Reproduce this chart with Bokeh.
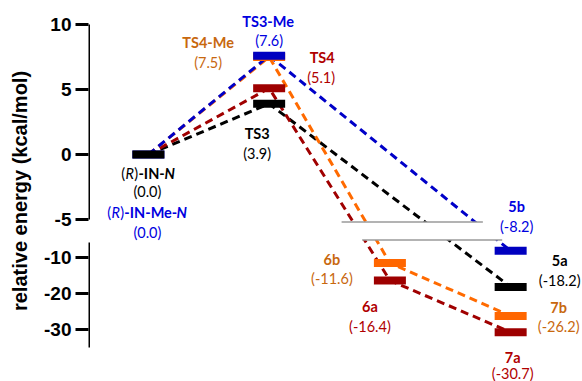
from bokeh.plotting import figure
from bokeh.models import LinearAxis, FixedTicker, ColumnDataSource
from bokeh.core.properties import value
from bokeh.embed import file_html
from bokeh.resources import INLINE

# ---------------- data ----------------
state_names = ["(R)-IN-N", "(R)-IN-Me-N", "TS3", "TS3-Me", "TS4", "TS4-Me",
               "6a", "6b", "5a", "5b", "7a", "7b"]
state_stage = [1, 1, 2, 2, 2, 2, 3, 3, 4, 4, 4, 4]
state_energy = [0.0, 0.0, 3.9, 7.6, 5.1, 7.5, -16.4, -11.6, -18.2, -8.2, -30.7, -26.2]
state_series = ["black", "blue", "black", "blue", "red", "orange",
                "red", "orange", "black", "blue", "red", "orange"]

path_black = ["(R)-IN-N", "TS3", "5a"]
path_blue = ["(R)-IN-Me-N", "TS3-Me", "5b"]
path_red = ["(R)-IN-N", "TS4", "6a", "7a"]
path_orange = ["(R)-IN-Me-N", "TS4-Me", "6b", "7b"]

upper_ticks = [10, 5, 0, -5]
lower_ticks = [-10, -20, -30]
y_label = "relative energy (kcal/mol)"

# ---------------- broken axis geometry ----------------
UPPER = (-5, 10)
LOWER = (-35, -6)
LOWER_RATIO = 0.2785   # length of one lower unit in upper units
GAP = 1.79             # gap between upper -5 and lower -6 (upper units)
BREAK_AT = -5.2        # panel edge value (in each panel's own scale)


def up(v):
    return v


def lo(v):
    return UPPER[0] - GAP - (LOWER[1] - v) * LOWER_RATIO


def disp(v):
    return up(v) if v >= UPPER[0] else lo(v)


LINE_COL = {"black": "#000000", "blue": "#0000C8", "red": "#A00000", "orange": "#FF6A00"}
BAR_COL = {"black": "#000000", "blue": "#0000C0", "red": "#9E0000", "orange": "#FF6600"}
TXT_COL = {"black": "#000000", "blue": "#0000E0", "red": "#B00000", "orange": "#C8680E"}

# label offsets in screen px relative to bar centre: (name dx, name dy, value dx, value dy)
LABEL_OFF = {
    "(R)-IN-N": (0, 19, -1, 37),
    "(R)-IN-Me-N": (-1, 58, -1, 78),
    "TS3-Me": (-1, -34, 0, -15),
    "TS4-Me": (-61, -14.5, -61, 5.5),
    "TS4": (53, -31, 52, -11),
    "TS3": (-12, 30, -12, 50),
    "5b": (6, -44, 6, -24),
    "5a": (49, -26, 49, -6.5),
    "7b": (48, -8.5, 48, 10.5),
    "7a": (2, 25.5, 2, 41),
    "6b": (-58, -3.5, -58, 15.5),
    "6a": (-20, 26, -20, 45.7),
}

FONT = "Lato"
FS = 14.5

W, H = 582, 381
LEFT = 88
x_range = (0.504, 4.595)
y_range = (-17.46, 11.846)

p = figure(width=W, height=H, x_range=x_range, y_range=y_range,
           output_backend="svg", toolbar_location=None, x_axis_location=None,
           min_border_left=LEFT, min_border_right=0, min_border_top=0, min_border_bottom=0)
p.outline_line_color = None
p.grid.visible = False
p.background_fill_color = "white"
p.border_fill_color = "white"

# main axis: ticks + labels over whole broken range, line hidden
ax = p.yaxis[0]
all_ticks = [disp(t) for t in upper_ticks] + [disp(t) for t in lower_ticks]
ax.ticker = FixedTicker(ticks=all_ticks)
ax.major_label_overrides = {disp(t): str(t) for t in upper_ticks + lower_ticks}
ax.bounds = (disp(LOWER[0]), disp(UPPER[1]))
ax.axis_line_color = None
ax.major_tick_out = 13
ax.major_tick_in = 0
ax.major_tick_line_width = 3
ax.major_tick_line_color = "black"
ax.minor_tick_line_color = None
ax.major_label_standoff = 4
ax.major_label_text_font = "Liberation Sans"
ax.major_label_text_font_style = "bold"
ax.major_label_text_font_size = "19px"
ax.major_label_text_color = "black"
ax.axis_label = y_label
ax.axis_label_text_font = "Liberation Sans"
ax.axis_label_text_font_style = "bold"
ax.axis_label_text_font_size = "20px"
ax.axis_label_text_color = "black"
ax.axis_label_standoff = 10

# axis line segments for each panel
for b in [(disp(UPPER[0]), disp(UPPER[1])), (disp(LOWER[0]), disp(LOWER[1]))]:
    a2 = LinearAxis(fixed_location=x_range[0], bounds=b, ticker=FixedTicker(ticks=[]),
                    axis_line_width=3, axis_line_color="black",
                    major_tick_line_color=None, minor_tick_line_color=None,
                    major_label_text_font_size="0px")
    p.add_layout(a2, "left")

idx = {n: i for i, n in enumerate(state_names)}

# dashed connecting lines
for path, ser in [(path_black, "black"), (path_red, "red"), (path_orange, "orange"), (path_blue, "blue")]:
    xs = [state_stage[idx[n]] for n in path]
    ys = [disp(state_energy[idx[n]]) for n in path]
    p.line(xs, ys, line_color=LINE_COL[ser], line_width=3, line_dash="8 5", line_cap="butt")

# mask the axis break gap
p.quad(left=[x_range[0]], right=[x_range[1]], top=[up(BREAK_AT)], bottom=[lo(BREAK_AT)],
       fill_color="white", line_color=None)

# break edge lines
BREAK_X_UP = (2.60, 3.77)
BREAK_X_LO = (2.77, 3.93)
p.segment(x0=[BREAK_X_UP[0], BREAK_X_LO[0]], x1=[BREAK_X_UP[1], BREAK_X_LO[1]],
          y0=[up(BREAK_AT), lo(BREAK_AT)], y1=[up(BREAK_AT), lo(BREAK_AT)],
          line_color="#9a9a9a", line_width=1.5)

# bars
for ser in ["orange", "red", "blue", "black"]:
    ii = [i for i, s in enumerate(state_series) if s == ser]
    src = ColumnDataSource(dict(x=[state_stage[i] for i in ii],
                                y=[disp(state_energy[i]) for i in ii]))
    p.rect(x="x", y="y", width=32, height=8, width_units="screen", height_units="screen",
           fill_color=BAR_COL[ser], line_color=None, source=src)

# name labels (bold) and value labels
nx, ny, nt, nc, ndx, ndy = [], [], [], [], [], []
vx, vy, vt, vc, vdx, vdy = [], [], [], [], [], []
for i, n in enumerate(state_names):
    o = LABEL_OFF[n]
    x = state_stage[i]
    y = disp(state_energy[i])
    if not n.startswith("(R)"):
        nx.append(x); ny.append(y); nt.append(n); nc.append(TXT_COL[state_series[i]])
        ndx.append(o[0]); ndy.append(o[1])
    vx.append(x); vy.append(y); vt.append("(%.1f)" % state_energy[i])
    vc.append(TXT_COL[state_series[i]]); vdx.append(o[2]); vdy.append(o[3])

p.text(x="x", y="y", text="t", text_color="c", x_offset="dx", y_offset="dy",
       source=ColumnDataSource(dict(x=nx, y=ny, t=nt, c=nc, dx=ndx, dy=ndy)),
       text_font=value(FONT), text_font_style="bold", text_font_size=value("%gpx" % FS),
       text_align="center", text_baseline="middle")
p.text(x="x", y="y", text="t", text_color="c", x_offset="dx", y_offset="dy",
       source=ColumnDataSource(dict(x=vx, y=vy, t=vt, c=vc, dx=vdx, dy=vdy)),
       text_font=value(FONT), text_font_style="normal", text_font_size=value("%gpx" % FS),
       text_align="center", text_baseline="middle")

# mixed-style intermediate names
CHAR_W = {"(": 0.29, ")": 0.29, "R": 0.60, "-": 0.37, "I": 0.29, "N": 0.76,
          "M": 0.91, "e": 0.53}


def pieces_for(name):
    inner = name[3:-1]  # "-IN-" or "-IN-Me-"
    return [("(", "normal"), ("R", "italic"), (")", "normal"), (inner, "bold"), ("N", "bold italic")]


for n in ["(R)-IN-N", "(R)-IN-Me-N"]:
    i = idx[n]
    o = LABEL_OFF[n]
    pcs = pieces_for(n)
    widths = [sum(CHAR_W.get(ch, 0.55) for ch in t) * FS for t, _ in pcs]
    total = sum(widths)
    cur = o[0] - total / 2
    for (t, style), w in zip(pcs, widths):
        p.text(x=[state_stage[i]], y=[disp(state_energy[i])], text=[t],
               x_offset=cur, y_offset=o[1], text_color=TXT_COL[state_series[i]],
               text_font=value(FONT), text_font_style=style, text_font_size=value("%gpx" % FS),
               text_align="left", text_baseline="middle")
        cur += w

open("out.html", "w").write(file_html(p, INLINE))
